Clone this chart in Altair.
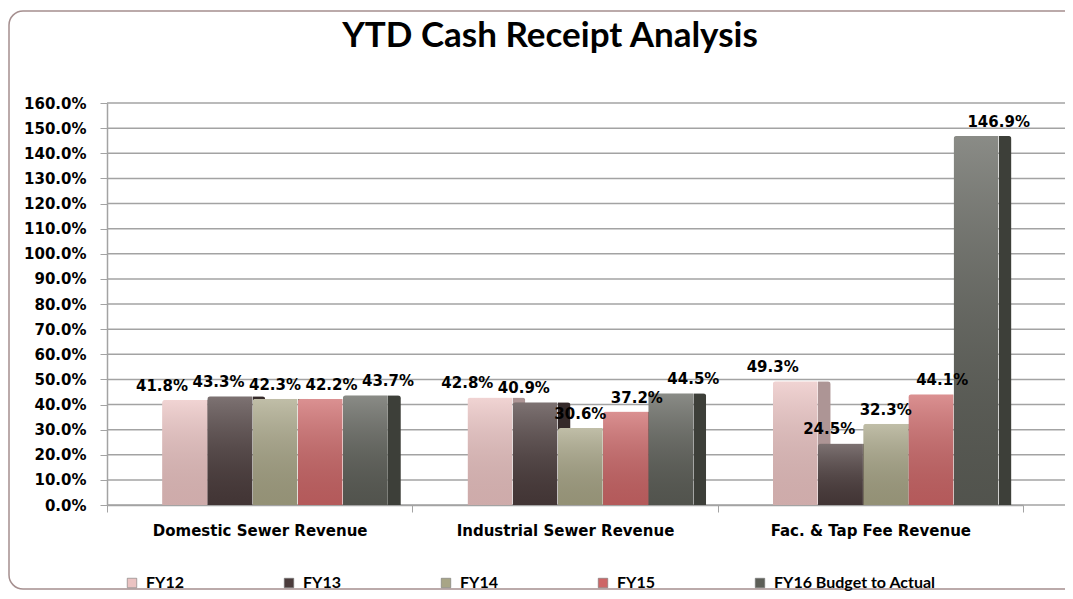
import altair as alt
import pandas as pd

categories = ["Domestic Sewer Revenue", "Industrial Sewer Revenue", "Fac. & Tap Fee Revenue"]
series = ["FY12", "FY13", "FY14", "FY15", "FY16 Budget to Actual"]
fy12 = [0.418, 0.428, 0.493]
fy13 = [0.433, 0.409, 0.245]
fy14 = [0.423, 0.306, 0.323]
fy15 = [0.422, 0.372, 0.441]
fy16 = [0.437, 0.445, 1.469]
y_ticks = [0.0, 0.1, 0.2, 0.3, 0.4, 0.5, 0.6, 0.7, 0.8, 0.9, 1.0, 1.1, 1.2, 1.3, 1.4, 1.5, 1.6]
title_text = "YTD Cash Receipt Analysis"

colors = ["#ebc3c2", "#4b3c3c", "#a8a586", "#cd6667", "#5d5f58"]
side_colors = ["#ad9595", "#352a2a", "#86836a", "#a24c4c", "#3d3f39"]

rows = []
for s, vals in zip(series, [fy12, fy13, fy14, fy15, fy16]):
    for c, v in zip(categories, vals):
        rows.append({"category": c, "series": s, "value": v})
df = pd.DataFrame(rows)
tick_df = pd.DataFrame({"value": y_ticks})

AXIS_FONT = "DejaVu Sans"
GRID = "#a3a3a3"

x_enc = alt.X(
    "category:N",
    sort=categories,
    scale=alt.Scale(range=[0, 916], paddingInner=0, paddingOuter=0),
    axis=alt.Axis(
        title=None, labelAngle=0, labelFont=AXIS_FONT, labelFontSize=15,
        labelFontWeight="bold", labelColor="black", tickBand="extent",
        tickSize=7, tickColor=GRID, domainColor=GRID, domainWidth=1.5,
        labelPadding=11, grid=False, labelLimit=400,
    ),
)
y_enc = alt.Y(
    "value:Q",
    scale=alt.Scale(domain=[0, 1.6], nice=False),
    axis=alt.Axis(
        values=y_ticks, format=".1%", title=None, labelFont=AXIS_FONT,
        labelFontSize=15, labelFontWeight="bold", labelColor="black",
        tickSize=7, tickColor=GRID, domainColor=GRID, domainWidth=1.5,
        grid=False, labelPadding=14, labelOverlap=False, labelBound=False,
    ),
)
face_off = alt.XOffset("series:N", sort=series,
                       scale=alt.Scale(domain=series, range=[55, 281], paddingInner=0, paddingOuter=0))
side_off = alt.XOffset("series:N", sort=series,
                       scale=alt.Scale(domain=series, range=[84, 310], paddingInner=0, paddingOuter=0))

color_enc = alt.Color(
    "series:N",
    sort=series,
    scale=alt.Scale(domain=series, range=colors),
    legend=alt.Legend(
        title=None, orient="none", legendX=17, legendY=472,
        direction="horizontal", symbolType="square", symbolSize=90,
        symbolStrokeColor="#777", symbolStrokeWidth=0.6,
        labelFont="Lato", labelFontSize=16, labelFontWeight="bold",
        labelColor="black", labelOffset=6, columnPadding=97, labelLimit=300,
    ),
)

gloss_fill = alt.Gradient(
    gradient="linear", x1=0, x2=0, y1=0, y2=1,
    stops=[
        alt.GradientStop(offset=0, color="rgba(255,255,255,0.28)"),
        alt.GradientStop(offset=1, color="rgba(0,0,0,0.12)"),
    ],
)

border = alt.Chart(pd.DataFrame({"a": [0]})).mark_rect(
    filled=False, stroke="#a58f8f", strokeWidth=1.5, cornerRadius=14
).encode(x=alt.value(-98), x2=alt.value(990), y=alt.value(-92), y2=alt.value(486))

grid = alt.Chart(tick_df).mark_rule(color=GRID, strokeWidth=1.5).encode(
    y=y_enc, x=alt.value(0), x2=alt.value(958)
)

layers = [grid]
for i, s in enumerate(series):
    sub = alt.Chart(df).transform_filter(alt.datum.series == s)
    side = sub.mark_bar(width=13, cornerRadiusTopRight=3, color=side_colors[i]).encode(
        x=x_enc, xOffset=side_off, y=y_enc
    )
    face = sub.mark_bar(width=45, cornerRadiusTopLeft=3).encode(
        x=x_enc, xOffset=face_off, y=y_enc, color=color_enc
    )
    gloss = sub.mark_bar(width=45, cornerRadiusTopLeft=3, color=gloss_fill).encode(
        x=x_enc, xOffset=face_off, y=y_enc
    )
    layers += [side, face, gloss]

labels = alt.Chart(df).mark_text(
    dy=-9, font=AXIS_FONT, fontSize=15, fontWeight="bold", color="black",
    baseline="alphabetic",
).encode(x=x_enc, xOffset=face_off, y=y_enc, text=alt.Text("value:Q", format=".1%"))

title = alt.Chart(pd.DataFrame({"t": [title_text]})).mark_text(
    font="Lato", fontSize=35, fontWeight="bold", color="black",
    align="center", baseline="alphabetic",
).encode(text="t:N", x=alt.value(443), y=alt.value(-56))

layers += [labels, title, border]

chart = alt.layer(*layers).resolve_scale(xOffset="independent").properties(
    width=955,
    height=402,
    autosize=alt.AutoSizeParams(type="none"),
    padding={"left": 99, "top": 95, "right": 3, "bottom": 86},
).configure(background="white").configure_view(stroke=None)

chart.save("out.html", embed_options={"renderer": "svg", "actions": False})
